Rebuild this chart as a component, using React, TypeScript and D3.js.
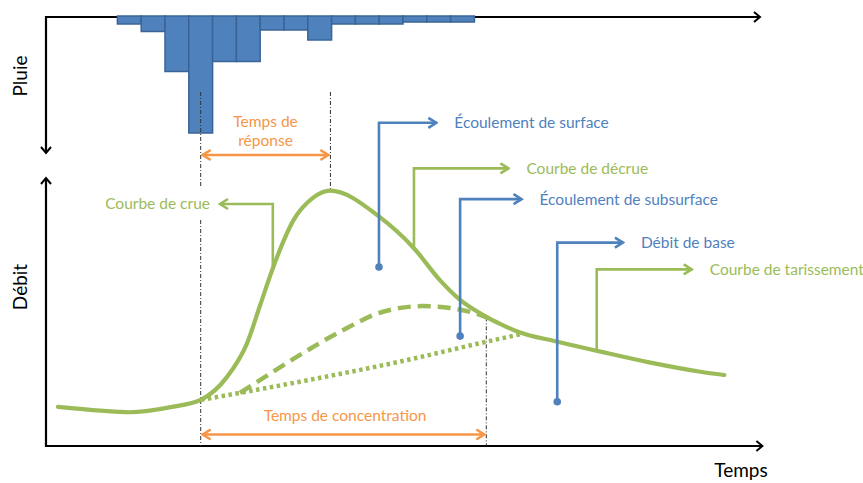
import React, { useEffect, useRef } from 'react';
import * as d3 from 'd3';

const GREEN = '#9BBB59';
const BLUE = '#4F81BD';
const ORANGE = '#F79646';
const FONT = 'Lato, "Open Sans", sans-serif';

// Pluie : un histogramme inversé, un pas de temps par barre
const rainStart = [3, 4, 5, 6, 7, 8, 9, 10, 11, 12, 13, 14, 15, 16, 17];
const rainDepth = [7, 14.5, 54.5, 116, 44.5, 44.5, 13, 13, 23, 7, 7, 7, 5, 5, 5];

// Hydrogramme (débit total)
const flowTime = [0.5, 2.3, 3.5, 5.3, 6.5, 7.6, 8.45, 9.0, 9.55, 10.4, 11.2, 11.93, 14, 15.46, 16.55, 17.4, 18.5, 19.1, 19.8, 21.5, 23.3, 25.4, 27.5, 28.5];
const flowQ = [14.6, 13.2, 12.6, 14.6, 17.2, 25.7, 38.4, 52.6, 66.8, 84.3, 92.5, 95.3, 85.6, 73.8, 61.9, 54.5, 48.2, 45.5, 42.7, 38.9, 35.2, 31.1, 27.7, 26.5];

// Écoulement de subsurface (tirets)
const subTime = [8.15, 9.54, 10.67, 12.35, 14.16, 15.84, 16.97, 18.24, 18.66];
const subQ = [19.8, 27.7, 34, 42.6, 50.1, 52.2, 51.5, 48.9, 47.4];

// Débit de base (pointillés)
const baseTime = [6.51, 10.67, 14.87, 18.5, 19.92];
const baseQ = [17.2, 24, 31.5, 38.9, 41.7];

// Repères temporels
const tRainCentroid = 6.5;
const tPeak = 11.95;
const tConcentration = 18.5;

// Annotations : pied (t, q), coude (q), pointe de flèche (t)
const annotations = [
    { label: 'Courbe de crue', color: GREEN, t: 9.53, q0: 66.8, q1: 90.3, tip: 7.31, dot: false },
    { label: 'Écoulement de surface', color: BLUE, t: 13.99, q0: 66.8, q1: 120.6, tip: 16.4, dot: true },
    { label: 'Courbe de décrue', color: GREEN, t: 15.46, q0: 73.8, q1: 103.6, tip: 19.43, dot: false },
    { label: 'Écoulement de subsurface', color: BLUE, t: 17.4, q0: 41.0, q1: 92.1, tip: 19.98, dot: true },
    { label: 'Débit de base', color: BLUE, t: 21.48, q0: 16.5, q1: 75.9, tip: 24.24, dot: true },
    { label: 'Courbe de tarissement', color: GREEN, t: 23.14, q0: 35.8, q1: 65.9, tip: 27.13, dot: false },
];

export default function App() {
    const ref = useRef<SVGSVGElement>(null);

    useEffect(() => {
        const svg = d3.select(ref.current);
        svg.selectAll('*').remove();

        const x = d3.scaleLinear().domain([0, 30]).range([46, 760]);
        const yRain = d3.scaleLinear().domain([0, 120]).range([17, 137]);
        const y = d3.scaleLinear().domain([0, 100]).range([446, 178]);

        const defs = svg.append('defs');
        const marker = (id, color, len, half, w) => {
            defs.append('marker')
                .attr('id', id)
                .attr('markerUnits', 'userSpaceOnUse')
                .attr('viewBox', `${-len - 2} ${-half - 2} ${len + 4} ${half * 2 + 4}`)
                .attr('markerWidth', len + 4)
                .attr('markerHeight', half * 2 + 4)
                .attr('refX', 0).attr('refY', 0)
                .attr('orient', 'auto-start-reverse')
                .append('path')
                .attr('d', `M${-len},${-half} L0,0 L${-len},${half}`)
                .attr('fill', 'none')
                .attr('stroke', color)
                .attr('stroke-width', w)
                .attr('stroke-linejoin', 'miter');
        };
        marker('arr-black', '#000', 6, 5, 2);
        marker('arr-green', GREEN, 8, 5, 2.6);
        marker('arr-blue', BLUE, 8, 5, 2.6);
        marker('arr-orange', ORANGE, 8, 5, 2.6);

        // axes
        svg.append('path')
            .attr('d', `M${x(30)},${yRain(0)} H${x(0)} V${yRain(116) + 20}`)
            .attr('fill', 'none').attr('stroke', '#000').attr('stroke-width', 2.2)
            .attr('marker-start', 'url(#arr-black)').attr('marker-end', 'url(#arr-black)');
        svg.append('path')
            .attr('d', `M${x(0)},${y(0) - 268} V${y(0)} H${x(30.1)}`)
            .attr('fill', 'none').attr('stroke', '#000').attr('stroke-width', 2.2)
            .attr('marker-start', 'url(#arr-black)').attr('marker-end', 'url(#arr-black)');

        // barres de pluie
        svg.append('g').selectAll('rect')
            .data(rainDepth)
            .join('rect')
            .attr('x', (d, i) => x(rainStart[i]))
            .attr('y', yRain(0) - 1)
            .attr('width', (d, i) => x(rainStart[i] + 1) - x(rainStart[i]))
            .attr('height', d => yRain(d) - yRain(0) + 1)
            .attr('fill', BLUE)
            .attr('stroke', '#3A6496')
            .attr('stroke-width', 1.5);

        // lignes de repère tiret-point
        const guide = (t, y0, y1) => svg.append('line')
            .attr('x1', x(t)).attr('x2', x(t)).attr('y1', y0).attr('y2', y1)
            .attr('stroke', '#333').attr('stroke-width', 1)
            .attr('stroke-dasharray', '4,2,1,2');
        guide(tRainCentroid, 92, 188);
        guide(tRainCentroid, 220, y(0));
        guide(tPeak, 92, y(95.3));
        guide(tConcentration, y(48), y(0));

        const line = d3.line<number>().curve(d3.curveMonotoneX);

        svg.append('path')
            .attr('d', line.x((d, i) => x(baseTime[i])).y(d => y(d))(baseQ))
            .attr('fill', 'none').attr('stroke', GREEN).attr('stroke-width', 4.5)
            .attr('stroke-dasharray', '3.5,3.5');
        svg.append('path')
            .attr('d', line.x((d, i) => x(subTime[i])).y(d => y(d))(subQ))
            .attr('fill', 'none').attr('stroke', GREEN).attr('stroke-width', 4.5)
            .attr('stroke-dasharray', '13,7');
        svg.append('path')
            .attr('d', line.x((d, i) => x(flowTime[i])).y(d => y(d))(flowQ))
            .attr('fill', 'none').attr('stroke', GREEN).attr('stroke-width', 4.2)
            .attr('stroke-linecap', 'round');

        // annotations
        const ann = svg.append('g').selectAll('g').data(annotations).join('g');
        ann.append('path')
            .attr('d', d => `M${x(d.t)},${y(d.q0)} V${y(d.q1)} H${x(d.tip)}`)
            .attr('fill', 'none')
            .attr('stroke', d => d.color)
            .attr('stroke-width', 2.6)
            .attr('marker-end', d => `url(#arr-${d.color === BLUE ? 'blue' : 'green'})`);
        ann.filter(d => d.dot).append('circle')
            .attr('cx', d => x(d.t)).attr('cy', d => y(d.q0)).attr('r', 3.8)
            .attr('fill', d => d.color);
        ann.append('text')
            .attr('x', d => d.tip < d.t ? x(d.tip) - 10 : x(d.tip) + 18)
            .attr('y', d => y(d.q1))
            .attr('dy', '0.35em')
            .attr('text-anchor', d => d.tip < d.t ? 'end' : 'start')
            .attr('fill', d => d.color)
            .style('font-family', FONT)
            .style('font-size', '15.5px')
            .text(d => d.label);

        // temps de réponse / concentration
        const span = (t0, t1, yy) => svg.append('line')
            .attr('x1', x(t0) + 2).attr('x2', x(t1) - 2).attr('y1', yy).attr('y2', yy)
            .attr('stroke', ORANGE).attr('stroke-width', 2.6)
            .attr('marker-start', 'url(#arr-orange)').attr('marker-end', 'url(#arr-orange)');
        span(tRainCentroid, tPeak, 155);
        span(tRainCentroid, tConcentration, 434.5);

        const orangeText = (t, yy, s) => svg.append('text')
            .attr('x', t).attr('y', yy).attr('dy', '0.35em')
            .attr('text-anchor', 'middle').attr('fill', ORANGE)
            .style('font-family', FONT).style('font-size', '15.5px').text(s);
        orangeText((x(tRainCentroid) + x(tPeak)) / 2, 122, 'Temps de');
        orangeText((x(tRainCentroid) + x(tPeak)) / 2, 141, 'réponse');
        orangeText(345, 416, 'Temps de concentration');

        // titres des axes
        const axisLabel = (s, tx, ty, rot) => svg.append('text')
            .attr('transform', `translate(${tx},${ty}) rotate(${rot})`)
            .attr('text-anchor', 'middle').attr('dy', '0.35em')
            .attr('fill', '#000')
            .style('font-family', FONT).style('font-size', '19px').text(s);
        axisLabel('Pluie', 20, 76, -90);
        axisLabel('Débit', 20, 287, -90);
        axisLabel('Temps', 741, 470, 0);
    }, []);

    return (
        <svg ref={ref} width={863} height={483}
            style={{ position: 'absolute', left: 0, top: 0, background: '#fff' }} />
    );
}
